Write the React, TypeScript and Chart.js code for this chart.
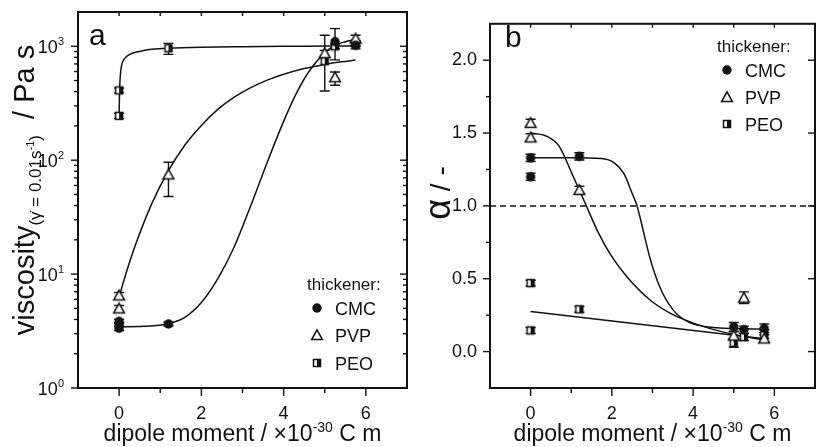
import React, { useEffect, useRef } from 'react';
import { Chart, registerables } from 'chart.js';

Chart.register(...registerables);

const FONT = '"Liberation Sans", Arial, Helvetica, sans-serif';
const INK = '#111111';

// ---------- Panel a: viscosity (Pa s) ----------
const cmcViscX = [0, 0, 0, 1.2, 5.25, 5.75];
const cmcVisc = [3.35, 3.6, 3.85, 3.65, 1100, 1020];
const cmcViscLo = [3.2, 3.45, 3.7, 3.5, 760, 950];
const cmcViscHi = [3.5, 3.75, 4.0, 3.8, 1430, 1090];

const pvpViscX = [0, 0, 1.2, 5.0, 5.25, 5.75];
const pvpVisc = [6.5, 5.0, 75, 870, 535, 1170];
const pvpViscLo = [6.1, 4.7, 48, 820, 455, 1100];
const pvpViscHi = [6.9, 5.3, 96, 920, 595, 1250];

const peoViscX = [0, 0, 1.2, 5.0, 5.25, 5.75];
const peoVisc = [410, 245, 960, 740, 1000, 1050];
const peoViscLo = [390, 232, 850, 405, 950, 1000];
const peoViscHi = [430, 258, 1060, 1250, 1050, 1100];

// fit curves
const cmcViscFitX = [0, 0.6, 1.2, 1.6, 2.0, 2.4, 2.8, 3.2, 3.6, 4.0, 4.3, 4.6, 4.96, 5.2, 5.5, 5.75];
const cmcViscFitY = [3.45, 3.48, 3.67, 4.17, 5.62, 9.12, 17.4, 39.8, 95.5, 219, 380, 589, 851, 1000, 1096, 1148];
const pvpViscFitX = [0, 0.2, 0.4, 0.8, 1.2, 1.6, 2.0, 2.4, 2.8, 3.2, 3.6, 4.0, 4.5, 5.0, 5.4, 5.75];
const pvpViscFitY = [6.3, 11.1, 18.2, 42, 81, 136, 202, 279, 357, 433, 505, 569, 638, 693, 730, 757];
const peoViscFitX = [0, 0.01, 0.03, 0.06, 0.1, 0.16, 0.25, 0.4, 0.6, 0.8, 1.2, 2, 3, 4, 5, 5.75];
const peoViscFitY = [250, 400, 560, 680, 750, 800, 845, 885, 920, 940, 960, 980, 992, 1000, 1005, 1010];

// ---------- Panel b: alpha (-) ----------
const cmcAlphaX = [0, 0, 1.2, 5.0, 5.25, 5.75];
const cmcAlpha = [1.33, 1.2, 1.34, 0.17, 0.15, 0.16];
const pvpAlphaX = [0, 0, 1.2, 5.0, 5.25, 5.75];
const pvpAlpha = [1.57, 1.47, 1.11, 0.11, 0.37, 0.09];
const peoAlphaX = [0, 0, 1.2, 5.0, 5.25, 5.75];
const peoAlpha = [0.47, 0.145, 0.29, 0.06, 0.1, 0.12];
const cmcAlphaErr = [0.025, 0.025, 0.025, 0.03, 0.025, 0.03];
const pvpAlphaErr = [0.025, 0.025, 0.025, 0.025, 0.04, 0.025];
const peoAlphaErr = [0.02, 0.02, 0.02, 0.03, 0.025, 0.03];

const cmcAlphaFitX = [0, 1.0, 1.74, 2.06, 2.3, 2.5, 2.62, 2.78, 2.94, 3.18, 3.5, 3.9, 4.5, 5.0, 5.75];
const cmcAlphaFitY = [1.33, 1.33, 1.325, 1.295, 1.22, 1.085, 1.0, 0.82, 0.64, 0.443, 0.288, 0.2, 0.165, 0.158, 0.155];
const pvpAlphaFitX = [0, 0.38, 0.7, 1.02, 1.34, 1.66, 1.98, 2.38, 2.94, 3.42, 4.06, 4.8, 5.75];
const pvpAlphaFitY = [1.5, 1.48, 1.41, 1.22, 1.02, 0.82, 0.66, 0.51, 0.354, 0.266, 0.19, 0.13, 0.08];
const peoAlphaFitX = [0, 5.75];
const peoAlphaFitY = [0.275, 0.088];
const refLineX = [-1, 7];
const refLineY = [1, 1];

// axis ticks
const xMajorTicks = [0, 2, 4, 6];
const xMinorTicks = [1, 3, 5];
const xTopTicks = [0, 1, 2, 3, 4, 5, 6];
const logMajorTicks = [1, 10, 100, 1000];
const logMinorTicks = [2, 3, 4, 5, 6, 7, 8, 9, 20, 30, 40, 50, 60, 70, 80, 90, 200, 300, 400, 500, 600, 700, 800, 900];
const alphaMajorTicks = [0, 0.5, 1.0, 1.5, 2.0];
const alphaMinorTicks = [0.25, 0.75, 1.25, 1.75];
const legendNames = ['CMC', 'PVP', 'PEO'];

type Pt = { x: number; y: number };
const pts = (xs: number[], ys: number[]): Pt[] => xs.map((x, i) => ({ x, y: ys[i] }));

function makeMarker(kind: string): HTMLCanvasElement {
  const c = document.createElement('canvas');
  c.width = 14;
  c.height = 14;
  const g = c.getContext('2d') as CanvasRenderingContext2D;
  g.strokeStyle = INK;
  g.fillStyle = INK;
  g.lineWidth = 1.5;
  if (kind === 'circle') {
    g.beginPath();
    g.arc(7, 7, 4.7, 0, Math.PI * 2);
    g.fill();
  } else if (kind === 'triangle') {
    g.beginPath();
    g.moveTo(7, 1.8);
    g.lineTo(12.4, 11.6);
    g.lineTo(1.6, 11.6);
    g.closePath();
    g.fillStyle = '#ffffff';
    g.fill();
    g.stroke();
  } else {
    g.fillStyle = '#ffffff';
    g.fillRect(3, 3, 8, 8);
    g.fillStyle = INK;
    g.fillRect(7, 3, 4, 8);
    g.strokeRect(3.5, 3.5, 7, 7);
  }
  return c;
}

type Piece = { t: string; s: number; dy?: number };

function drawRich(ctx: CanvasRenderingContext2D, pieces: Piece[], x: number, y: number, align: string, rotate: boolean) {
  ctx.save();
  ctx.fillStyle = INK;
  ctx.textBaseline = 'alphabetic';
  ctx.textAlign = 'left';
  let total = 0;
  const widths = pieces.map((p) => {
    ctx.font = `${p.s}px ${FONT}`;
    const w = ctx.measureText(p.t).width;
    total += w;
    return w;
  });
  ctx.translate(x, y);
  if (rotate) ctx.rotate(-Math.PI / 2);
  let cx = align === 'center' ? -total / 2 : align === 'right' ? -total : 0;
  pieces.forEach((p, i) => {
    ctx.font = `${p.s}px ${FONT}`;
    ctx.fillText(p.t, cx, p.dy || 0);
    cx += widths[i];
  });
  ctx.restore();
}

function tickLine(ctx: CanvasRenderingContext2D, x1: number, y1: number, x2: number, y2: number) {
  ctx.beginPath();
  ctx.moveTo(x1, y1);
  ctx.lineTo(x2, y2);
  ctx.stroke();
}

const errorBarPlugin = {
  id: 'errorBars',
  beforeDatasetsDraw(chart: any) {
    const { ctx } = chart;
    const xs = chart.scales.x;
    const ys = chart.scales.y;
    ctx.save();
    ctx.strokeStyle = INK;
    ctx.lineWidth = 1.4;
    chart.data.datasets.forEach((ds: any) => {
      if (!ds.errLo) return;
      ds.data.forEach((p: Pt, j: number) => {
        const px = xs.getPixelForValue(p.x);
        const lo = ys.getPixelForValue(ds.errLo[j]);
        const hi = ys.getPixelForValue(ds.errHi[j]);
        ctx.beginPath();
        ctx.moveTo(px, lo);
        ctx.lineTo(px, hi);
        ctx.moveTo(px - 5, lo);
        ctx.lineTo(px + 5, lo);
        ctx.moveTo(px - 5, hi);
        ctx.lineTo(px + 5, hi);
        ctx.stroke();
      });
    });
    ctx.restore();
  },
};

function frameAndTicks(chart: any, yMajor: number[], yMinor: number[], rightMinor: boolean) {
  const { ctx, chartArea: a } = chart;
  const xs = chart.scales.x;
  const ys = chart.scales.y;
  ctx.save();
  ctx.strokeStyle = INK;
  ctx.lineWidth = 2;
  ctx.strokeRect(a.left, a.top, a.right - a.left, a.bottom - a.top);
  ctx.lineWidth = 1.4;
  xMajorTicks.forEach((v) => {
    const p = xs.getPixelForValue(v);
    tickLine(ctx, p, a.bottom, p, a.bottom + 8);
  });
  xMinorTicks.forEach((v) => {
    const p = xs.getPixelForValue(v);
    tickLine(ctx, p, a.bottom, p, a.bottom + 5);
  });
  xTopTicks.forEach((v) => {
    const p = xs.getPixelForValue(v);
    tickLine(ctx, p, a.top, p, a.top + 4);
  });
  yMajor.forEach((v) => {
    const p = ys.getPixelForValue(v);
    tickLine(ctx, a.left - 7, p, a.left, p);
    tickLine(ctx, a.right - 7, p, a.right, p);
  });
  yMinor.forEach((v) => {
    const p = ys.getPixelForValue(v);
    tickLine(ctx, a.left - 4, p, a.left, p);
    if (rightMinor) tickLine(ctx, a.right - 4, p, a.right, p);
  });
  ctx.restore();
}

function drawLegend(ctx: CanvasRenderingContext2D, markers: HTMLCanvasElement[], x0: number, titleY: number, rowsY: number[], markerX: number, textX: number) {
  drawRich(ctx, [{ t: 'thickener:', s: 17 }], x0, titleY, 'left', false);
  legendNames.forEach((n, i) => {
    const m = markers[i];
    ctx.drawImage(m, markerX - m.width / 2, rowsY[i] - m.height / 2);
    drawRich(ctx, [{ t: n, s: 18 }], textX, rowsY[i] + 6.5, 'left', false);
  });
}

function xTitle(chart: any) {
  const a = chart.chartArea;
  drawRich(
    chart.ctx,
    [
      { t: 'dipole moment / ×10', s: 23 },
      { t: '-30', s: 14, dy: -9 },
      { t: ' C m', s: 23 },
    ],
    (a.left + a.right) / 2,
    441,
    'center',
    false
  );
}

const baseX = {
  type: 'linear',
  min: -1,
  max: 7,
  afterFit: (s: any) => {
    s.height = 59;
  },
  grid: { display: false, drawTicks: false },
  border: { display: false },
  ticks: {
    stepSize: 1,
    autoSkip: false,
    maxRotation: 0,
    padding: 15,
    color: INK,
    font: { family: FONT, size: 18 },
    callback: (v: any) => (xMajorTicks.includes(Number(v)) ? String(v) : ''),
  },
};

export default function App() {
  const refA = useRef<HTMLCanvasElement | null>(null);
  const refB = useRef<HTMLCanvasElement | null>(null);

  useEffect(() => {
    const mk = ['circle', 'triangle', 'halfsquare'].map(makeMarker);
    const scatterDs = (label: string, data: Pt[], m: HTMLCanvasElement, lo: number[], hi: number[]) => ({
      label,
      data,
      showLine: false,
      pointStyle: m,
      pointRadius: 5,
      errLo: lo,
      errHi: hi,
    });
    const fitDs = (label: string, data: Pt[], extra: any = {}) => ({
      label,
      data,
      showLine: true,
      pointRadius: 0,
      borderColor: INK,
      borderWidth: 1.5,
      cubicInterpolationMode: 'monotone',
      fill: false,
      ...extra,
    });

    const panelA = {
      id: 'panelA',
      afterDraw(chart: any) {
        const { ctx, chartArea: a } = chart;
        const ys = chart.scales.y;
        frameAndTicks(chart, logMajorTicks, logMinorTicks, true);
        logMajorTicks.forEach((v) => {
          const p = ys.getPixelForValue(v);
          const exp = String(Math.round(Math.log10(v)));
          ctx.save();
          ctx.font = `11px ${FONT}`;
          const sw = ctx.measureText(exp).width;
          ctx.restore();
          const right = a.left - 14;
          drawRich(ctx, [{ t: '10', s: 18 }], right - sw, p + 7, 'right', false);
          drawRich(ctx, [{ t: exp, s: 11 }], right - sw, p - 1, 'left', false);
        });
        drawRich(ctx, [{ t: 'a', s: 30 }], 89, 45, 'left', false);
        drawLegend(ctx, mk, 307, 290, [308, 335, 363], 317, 335);
        xTitle(chart);
        drawRich(
          ctx,
          [
            { t: 'viscosity', s: 29 },
            { t: '(γ̇ = 0.01s', s: 17, dy: 7 },
            { t: '-1', s: 11, dy: 0 },
            { t: ')', s: 17, dy: 7 },
            { t: '  / Pa s', s: 29 },
          ],
          34,
          190,
          'center',
          true
        );
      },
    };

    const panelB = {
      id: 'panelB',
      afterDraw(chart: any) {
        const { ctx } = chart;
        frameAndTicks(chart, alphaMajorTicks, alphaMinorTicks, false);
        drawRich(ctx, [{ t: 'b', s: 30 }], 95, 47, 'left', false);
        drawLegend(ctx, mk, 307, 52, [70, 97, 124], 317, 335);
        xTitle(chart);
        drawRich(
          ctx,
          [
            { t: 'α', s: 36 },
            { t: ' / -', s: 28 },
          ],
          40,
          193,
          'center',
          true
        );
      },
    };

    const chartA = new Chart(refA.current as HTMLCanvasElement, {
      type: 'scatter',
      data: {
        datasets: [
          scatterDs('CMC', pts(cmcViscX, cmcVisc), mk[0], cmcViscLo, cmcViscHi),
          scatterDs('PVP', pts(pvpViscX, pvpVisc), mk[1], pvpViscLo, pvpViscHi),
          scatterDs('PEO', pts(peoViscX, peoVisc), mk[2], peoViscLo, peoViscHi),
          fitDs('CMC fit', pts(cmcViscFitX, cmcViscFitY)),
          fitDs('PVP fit', pts(pvpViscFitX, pvpViscFitY)),
          fitDs('PEO fit', pts(peoViscFitX, peoViscFitY)),
        ] as any,
      },
      options: {
        animation: false,
        responsive: false,
        events: [],
        layout: { padding: { left: 0, right: 11, top: 12, bottom: 0 } },
        plugins: { legend: { display: false }, tooltip: { enabled: false } },
        scales: {
          x: baseX as any,
          y: {
            type: 'logarithmic',
            min: 1,
            max: 2000,
            afterFit: (s: any) => {
              s.width = 78;
            },
            grid: { display: false, drawTicks: false },
            border: { display: false },
            ticks: { display: false },
          },
        },
      },
      plugins: [errorBarPlugin, panelA],
    });

    const chartB = new Chart(refB.current as HTMLCanvasElement, {
      type: 'scatter',
      data: {
        datasets: [
          scatterDs('CMC', pts(cmcAlphaX, cmcAlpha), mk[0], cmcAlpha.map((v, i) => v - cmcAlphaErr[i]), cmcAlpha.map((v, i) => v + cmcAlphaErr[i])),
          scatterDs('PVP', pts(pvpAlphaX, pvpAlpha), mk[1], pvpAlpha.map((v, i) => v - pvpAlphaErr[i]), pvpAlpha.map((v, i) => v + pvpAlphaErr[i])),
          scatterDs('PEO', pts(peoAlphaX, peoAlpha), mk[2], peoAlpha.map((v, i) => v - peoAlphaErr[i]), peoAlpha.map((v, i) => v + peoAlphaErr[i])),
          fitDs('CMC fit', pts(cmcAlphaFitX, cmcAlphaFitY)),
          fitDs('PVP fit', pts(pvpAlphaFitX, pvpAlphaFitY)),
          fitDs('PEO fit', pts(peoAlphaFitX, peoAlphaFitY), { cubicInterpolationMode: 'default', tension: 0 }),
          fitDs('alpha = 1', pts(refLineX, refLineY), { cubicInterpolationMode: 'default', tension: 0, borderDash: [6, 4] }),
        ] as any,
      },
      options: {
        animation: false,
        responsive: false,
        events: [],
        layout: { padding: { left: 0, right: 8, top: 12, bottom: 0 } },
        plugins: { legend: { display: false }, tooltip: { enabled: false } },
        scales: {
          x: baseX as any,
          y: {
            type: 'linear',
            min: -0.25,
            max: 2.25,
            afterFit: (s: any) => {
              s.width = 80;
            },
            grid: { display: false, drawTicks: false },
            border: { display: false },
            ticks: {
              stepSize: 0.25,
              autoSkip: false,
              padding: 13,
              color: INK,
              font: { family: FONT, size: 18 },
              callback: (v: any) => {
                const n = Number(v);
                return alphaMajorTicks.some((m) => Math.abs(m - n) < 1e-6) ? n.toFixed(1) : '';
              },
            },
          },
        },
      },
      plugins: [errorBarPlugin, panelB],
    });

    return () => {
      chartA.destroy();
      chartB.destroy();
    };
  }, []);

  return (
    <div style={{ position: 'fixed', left: 0, top: 0, width: 816, height: 447, overflow: 'hidden', background: '#ffffff' }}>
      <canvas ref={refA} width={422} height={447} style={{ position: 'absolute', left: 0, top: 0 }} />
      <canvas ref={refB} width={420} height={447} style={{ position: 'absolute', left: 410, top: 0 }} />
    </div>
  );
}
